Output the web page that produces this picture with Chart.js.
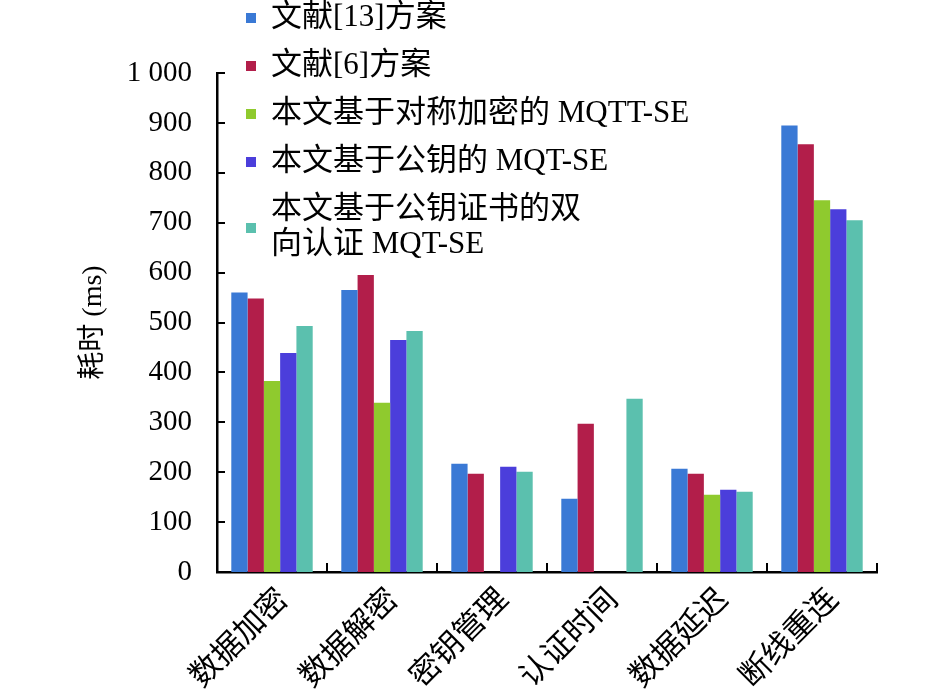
<!DOCTYPE html>
<html><head><meta charset="utf-8">
<script src="https://cdn.jsdelivr.net/npm/chart.js@4.4.0/dist/chart.umd.min.js"></script>
<style>html,body{margin:0;padding:0;background:#fff}canvas{display:block}</style>
</head><body>
<canvas id="c" width="945" height="694" style="width:945px;height:694px"></canvas>
<script>
const categories = ['数据加密','数据解密','密钥管理','认证时间','数据延迟','断线重连'];
const seriesLabels = ['文献[13]方案','文献[6]方案','本文基于对称加密的 MQTT-SE','本文基于公钥的 MQT-SE',['本文基于公钥证书的双','向认证 MQT-SE']];
const ref13 = [560, 565, 217, 147, 207, 895];
const ref6 = [548, 595, 197, 297, 197, 857];
const symMQTT = [383, 339, null, null, 155, 745];
const pubKey = [439, 465, 211, null, 165, 727];
const certMutual = [493, 483, 201, 347, 161, 705];
const yTickLabels = ['0','100','200','300','400','500','600','700','800','900','1 000'];
const colors = ['#3a79d5','#b21e4a','#8fca2e','#4b3edb','#5bc0ae'];

const FAMILY = '"Liberation Serif", "Noto Sans CJK SC", serif';
const seriesData = [ref13, ref6, symMQTT, pubKey, certMutual];

const innerTicks = {
  id: 'innerTicks',
  afterDraw(chart) {
    const {ctx, chartArea: a, scales: {x, y}} = chart;
    ctx.save();
    ctx.strokeStyle = '#000';
    ctx.lineWidth = 2;
    ctx.beginPath();
    y.ticks.forEach(t => {
      if (t.value === 0) return;
      const py = Math.round(y.getPixelForValue(t.value));
      ctx.moveTo(a.left, py); ctx.lineTo(a.left + 8, py);
    });
    for (let i = 0; i <= categories.length; i++) {
      const px = Math.round(x.getPixelForValue(i - 0.5));
      ctx.moveTo(px, a.bottom); ctx.lineTo(px, a.bottom - 9);
    }
    ctx.stroke();
    ctx.restore();
  }
};

const customLegend = {
  id: 'customLegend',
  afterDraw(chart) {
    const ctx = chart.ctx;
    ctx.save();
    ctx.font = '31px ' + FAMILY;
    ctx.textBaseline = 'middle';
    ctx.textAlign = 'left';
    let yc = 18;
    chart.data.datasets.forEach((ds, i) => {
      const lines = Array.isArray(ds.label) ? ds.label : [ds.label];
      const lh = 35;
      const mid = yc + (lines.length - 1) * lh / 2;
      ctx.fillStyle = ds.backgroundColor;
      ctx.fillRect(246, Math.round(mid - 5), 10, 10);
      ctx.fillStyle = '#000';
      lines.forEach((ln, k) => ctx.fillText(ln, 271, yc + k * lh));
      yc += 48 + (lines.length - 1) * lh;
    });
    ctx.restore();
  }
};

new Chart(document.getElementById('c'), {
  type: 'bar',
  data: {
    labels: categories,
    datasets: seriesData.map((d, i) => ({
      label: seriesLabels[i],
      data: d,
      backgroundColor: colors[i],
      borderWidth: 0,
      categoryPercentage: 0.74,
      barPercentage: 1.0
    }))
  },
  options: {
    responsive: false,
    animation: false,
    devicePixelRatio: 1,
    layout: { padding: { left: 75, top: 73, right: 68, bottom: 0 } },
    plugins: { legend: { display: false }, tooltip: { enabled: false } },
    scales: {
      x: {
        offset: true,
        grid: { display: false },
        border: { display: true, color: '#000', width: 2.5 },
        ticks: {
          color: '#000',
          font: { family: FAMILY, size: 31 },
          minRotation: 45, maxRotation: 45, autoSkip: false, padding: 2,
          labelOffset: 12
        },
        afterFit(s) { s.height = 122; }
      },
      y: {
        min: 0, max: 1000,
        grid: { display: false },
        border: { display: true, color: '#000', width: 2.5 },
        ticks: {
          stepSize: 100,
          color: '#000',
          font: { family: FAMILY, size: 29 },
          padding: 17,
          callback: (v, i) => yTickLabels[i]
        },
        title: {
          display: true, text: '耗时 (ms)', color: '#000',
          font: { family: FAMILY, size: 28 }, padding: 2
        },
        afterFit(s) { s.width = 142; }
      }
    }
  },
  plugins: [innerTicks, customLegend]
});
</script>
</body></html>
